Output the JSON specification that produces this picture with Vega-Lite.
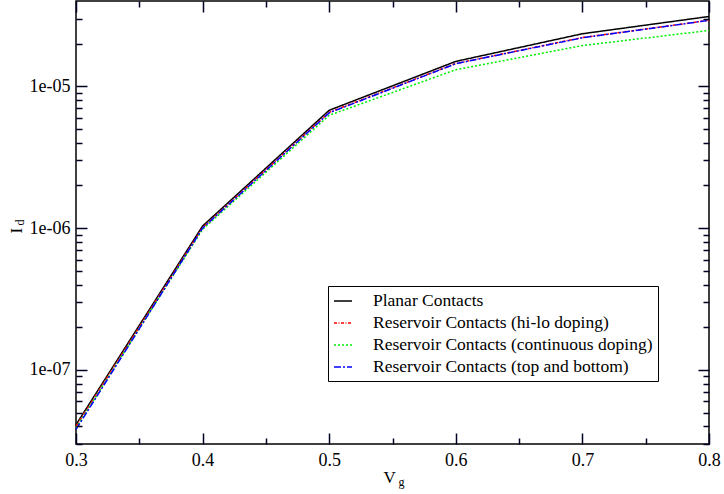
{
  "$schema": "https://vega.github.io/schema/vega-lite/v6.json",
  "width": 633,
  "height": 443,
  "autosize": "none",
  "padding": {"left": 76, "top": 1, "right": 15, "bottom": 50},
  "background": "white",
  "config": {
    "view": {"stroke": "black", "strokeWidth": 1.5},
    "font": "Liberation Serif",
    "axis": {"grid": false, "domain": false, "labelFont": "Liberation Serif", "titleFont": "Liberation Serif", "labelColor": "black", "titleColor": "black", "labelFontSize": 18, "titleFontSize": 17, "titleFontWeight": "normal", "labelFlush": false, "labelOverlap": false},
    "legend": {"labelFont": "Liberation Serif", "labelFontSize": 17.5, "labelColor": "black", "labelLimit": 500}
  },
  "data": {
    "values": [
      {"Vg": 0.3, "Id": 4.1e-8, "series": "Planar Contacts"},
      {"Vg": 0.4, "Id": 1.035e-6, "series": "Planar Contacts"},
      {"Vg": 0.5, "Id": 6.78e-6, "series": "Planar Contacts"},
      {"Vg": 0.6, "Id": 1.5e-5, "series": "Planar Contacts"},
      {"Vg": 0.7, "Id": 2.35e-5, "series": "Planar Contacts"},
      {"Vg": 0.8, "Id": 3.11e-5, "series": "Planar Contacts"},
      {"Vg": 0.3, "Id": 4.0e-8, "series": "Reservoir Contacts (hi-lo doping)"},
      {"Vg": 0.4, "Id": 1.01e-6, "series": "Reservoir Contacts (hi-lo doping)"},
      {"Vg": 0.5, "Id": 6.56e-6, "series": "Reservoir Contacts (hi-lo doping)"},
      {"Vg": 0.6, "Id": 1.45e-5, "series": "Reservoir Contacts (hi-lo doping)"},
      {"Vg": 0.7, "Id": 2.21e-5, "series": "Reservoir Contacts (hi-lo doping)"},
      {"Vg": 0.8, "Id": 2.92e-5, "series": "Reservoir Contacts (hi-lo doping)"},
      {"Vg": 0.3, "Id": 3.9e-8, "series": "Reservoir Contacts (continuous doping)"},
      {"Vg": 0.4, "Id": 0.98e-6, "series": "Reservoir Contacts (continuous doping)"},
      {"Vg": 0.5, "Id": 6.25e-6, "series": "Reservoir Contacts (continuous doping)"},
      {"Vg": 0.6, "Id": 1.31e-5, "series": "Reservoir Contacts (continuous doping)"},
      {"Vg": 0.7, "Id": 1.94e-5, "series": "Reservoir Contacts (continuous doping)"},
      {"Vg": 0.8, "Id": 2.48e-5, "series": "Reservoir Contacts (continuous doping)"},
      {"Vg": 0.3, "Id": 3.8e-8, "series": "Reservoir Contacts (top and bottom)"},
      {"Vg": 0.4, "Id": 1.0e-6, "series": "Reservoir Contacts (top and bottom)"},
      {"Vg": 0.5, "Id": 6.5e-6, "series": "Reservoir Contacts (top and bottom)"},
      {"Vg": 0.6, "Id": 1.445e-5, "series": "Reservoir Contacts (top and bottom)"},
      {"Vg": 0.7, "Id": 2.2e-5, "series": "Reservoir Contacts (top and bottom)"},
      {"Vg": 0.8, "Id": 2.92e-5, "series": "Reservoir Contacts (top and bottom)"}
    ]
  },
  "resolve": {"axis": {"x": "independent", "y": "independent"}},
  "layer": [
    {
      "mark": {"type": "line", "strokeWidth": 1.5},
      "encoding": {
        "x": {"field": "Vg", "type": "quantitative", "scale": {"domain": [0.3, 0.8], "nice": false, "zero": false},
          "axis": {"orient": "bottom", "values": [0.3, 0.4, 0.5, 0.6, 0.7, 0.8], "format": ".1f", "ticks": false, "labelPadding": 7, "title": "V", "titleX": 307, "titleY": 38, "titleAlign": "left", "titleBaseline": "alphabetic", "titleAnchor": null}},
        "y": {"field": "Id", "type": "quantitative", "scale": {"type": "log", "domain": [3e-8, 4e-5], "nice": false},
          "axis": {"orient": "left", "values": [1e-7, 1e-6, 1e-5], "labelExpr": "'1e-0' + round(-log(datum.value)/LN10)", "ticks": false, "labelPadding": 6, "title": "I", "titleAngle": 270, "titleX": -55, "titleY": 232, "titleAlign": "left", "titleBaseline": "alphabetic", "titleAnchor": null}},
        "color": {"field": "series", "type": "nominal",
          "scale": {"domain": ["Planar Contacts", "Reservoir Contacts (hi-lo doping)", "Reservoir Contacts (continuous doping)", "Reservoir Contacts (top and bottom)"], "range": ["#000000", "#ff0000", "#00ee00", "#0000ff"]},
          "legend": {"orient": "none", "legendX": 252, "legendY": 285, "title": null, "strokeColor": "black", "fillColor": "white", "padding": 5, "symbolType": "stroke", "symbolSize": 324, "symbolStrokeWidth": 1.5, "labelOffset": 20, "rowPadding": 3, "labelLimit": 500}},
        "strokeDash": {"field": "series", "type": "nominal",
          "scale": {"domain": ["Planar Contacts", "Reservoir Contacts (hi-lo doping)", "Reservoir Contacts (continuous doping)", "Reservoir Contacts (top and bottom)"], "range": [[1, 0], [3, 1.5, 1, 1.5], [2, 2], [7, 2, 2, 2]]},
          "legend": {"orient": "none", "legendX": 252, "legendY": 285, "title": null}}
      }
    },
    {
      "mark": {"type": "point", "opacity": 0},
      "encoding": {
        "x": {"field": "Vg", "type": "quantitative", "scale": {"domain": [0.3, 0.8], "nice": false, "zero": false},
          "axis": {"orient": "bottom", "values": [0.3, 0.4, 0.5, 0.6, 0.7, 0.8], "labels": false, "tickColor": "#000022", "tickWidth": 1.5, "ticks": true, "tickSize": -11, "zindex": 1, "title": null}},
        "y": {"field": "Id", "type": "quantitative", "scale": {"type": "log", "domain": [3e-8, 4e-5], "nice": false},
          "axis": {"orient": "left", "values": [1e-7, 1e-6, 1e-5], "labels": false, "tickColor": "#000022", "tickWidth": 1.5, "ticks": true, "tickSize": -11, "zindex": 1, "title": null}}
      }
    },
    {
      "mark": {"type": "point", "opacity": 0},
      "encoding": {
        "x": {"field": "Vg", "type": "quantitative", "scale": {"domain": [0.3, 0.8], "nice": false, "zero": false},
          "axis": {"orient": "bottom", "values": [0.35, 0.45, 0.55, 0.65, 0.75], "labels": false, "tickColor": "#000022", "tickWidth": 1.5, "ticks": true, "tickSize": -6, "zindex": 1, "title": null}},
        "y": {"field": "Id", "type": "quantitative", "scale": {"type": "log", "domain": [3e-8, 4e-5], "nice": false},
          "axis": {"orient": "left", "values": [3e-8, 4e-8, 5e-8, 6e-8, 7e-8, 8e-8, 9e-8, 2e-7, 3e-7, 4e-7, 5e-7, 6e-7, 7e-7, 8e-7, 9e-7, 2e-6, 3e-6, 4e-6, 5e-6, 6e-6, 7e-6, 8e-6, 9e-6, 2e-5, 3e-5], "labels": false, "tickColor": "#000022", "tickWidth": 1.5, "ticks": true, "tickSize": -6, "zindex": 1, "title": null}}
      }
    },
    {
      "mark": {"type": "point", "opacity": 0},
      "encoding": {
        "x": {"field": "Vg", "type": "quantitative", "scale": {"domain": [0.3, 0.8], "nice": false, "zero": false},
          "axis": {"orient": "top", "values": [0.3, 0.4, 0.5, 0.6, 0.7, 0.8], "labels": false, "tickColor": "#000022", "tickWidth": 1.5, "ticks": true, "tickSize": -11, "zindex": 1, "title": null}},
        "y": {"field": "Id", "type": "quantitative", "scale": {"type": "log", "domain": [3e-8, 4e-5], "nice": false},
          "axis": {"orient": "right", "values": [1e-7, 1e-6, 1e-5], "labels": false, "tickColor": "#000022", "tickWidth": 1.5, "ticks": true, "tickSize": -11, "zindex": 1, "title": null}}
      }
    },
    {
      "mark": {"type": "point", "opacity": 0},
      "encoding": {
        "x": {"field": "Vg", "type": "quantitative", "scale": {"domain": [0.3, 0.8], "nice": false, "zero": false},
          "axis": {"orient": "top", "values": [0.35, 0.45, 0.55, 0.65, 0.75], "labels": false, "tickColor": "#000022", "tickWidth": 1.5, "ticks": true, "tickSize": -6, "zindex": 1, "title": null}},
        "y": {"field": "Id", "type": "quantitative", "scale": {"type": "log", "domain": [3e-8, 4e-5], "nice": false},
          "axis": {"orient": "right", "values": [3e-8, 4e-8, 5e-8, 6e-8, 7e-8, 8e-8, 9e-8, 2e-7, 3e-7, 4e-7, 5e-7, 6e-7, 7e-7, 8e-7, 9e-7, 2e-6, 3e-6, 4e-6, 5e-6, 6e-6, 7e-6, 8e-6, 9e-6, 2e-5, 3e-5], "labels": false, "tickColor": "#000022", "tickWidth": 1.5, "ticks": true, "tickSize": -6, "zindex": 1, "title": null}}
      }
    },
    {
      "mark": {"type": "point", "opacity": 0},
      "encoding": {
        "x": {"field": "Vg", "type": "quantitative", "scale": {"domain": [0.3, 0.8], "nice": false, "zero": false},
          "axis": {"orient": "bottom", "values": [], "labels": false, "ticks": false, "title": "g", "titleFontSize": 12, "titleX": 322, "titleY": 41, "titleAlign": "left", "titleBaseline": "alphabetic", "titleAnchor": null}},
        "y": {"field": "Id", "type": "quantitative", "scale": {"type": "log", "domain": [3e-8, 4e-5], "nice": false},
          "axis": {"orient": "left", "values": [], "labels": false, "ticks": false, "title": "d", "titleFontSize": 12, "titleAngle": 270, "titleX": -53, "titleY": 224, "titleAlign": "left", "titleBaseline": "alphabetic", "titleAnchor": null}}
      }
    }
  ]
}
